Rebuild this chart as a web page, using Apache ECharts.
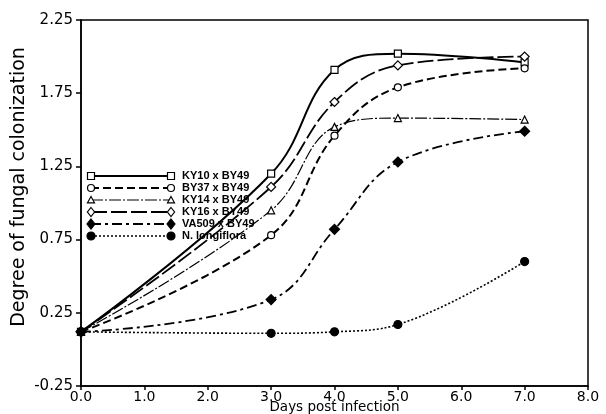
<!DOCTYPE html>
<html>
<head>
<meta charset="utf-8">
<script src="https://cdn.jsdelivr.net/npm/echarts@6/dist/echarts.min.js"></script>
<style>html,body{margin:0;padding:0;background:#fff;}#c{width:606px;height:414px;}</style>
</head>
<body>
<div id="c"></div>
<script>
var days = [0, 3, 4, 5, 7];
var seriesNames = ['KY10 x BY49', 'BY37 x BY49', 'KY14 x BY49', 'KY16 x BY49', 'VA509 x BY49', 'N. longiflora'];
var ky10 = [0.12, 1.20, 1.91, 2.02, 1.96];
var by37 = [0.12, 0.78, 1.46, 1.79, 1.92];
var ky14 = [0.12, 0.95, 1.52, 1.58, 1.57];
var ky16 = [0.12, 1.11, 1.69, 1.94, 2.00];
var va509 = [0.12, 0.34, 0.82, 1.28, 1.49];
var nlong = [0.12, 0.11, 0.12, 0.17, 0.60];
var xTicks = [0, 1, 2, 3, 4, 5, 6, 7, 8];
var yTicks = [-0.25, 0.25, 0.75, 1.25, 1.75, 2.25];

var values = [ky10, by37, ky14, ky16, va509, nlong];
var styles = [
  {symbol: 'rect', size: 7, fill: '#fff', dash: null, w: 2},
  {symbol: 'circle', size: 7, fill: '#fff', dash: [8, 4], w: 2},
  {symbol: 'triangle', size: 7, fill: '#fff', dash: [12, 2, 2, 2], w: 1.2},
  {symbol: 'diamond', size: 9, fill: '#fff', dash: [16, 4], w: 1.8},
  {symbol: 'diamond', size: 10, fill: '#000', dash: [10, 4, 3, 4], w: 1.8},
  {symbol: 'circle', size: 8, fill: '#000', dash: [2, 2], w: 1.6}
];

function pairs(v) { return days.map(function (d, i) { return [d, v[i]]; }); }

var series = values.map(function (v, i) {
  var s = styles[i];
  return {
    name: seriesNames[i], type: 'line', data: pairs(v), smooth: 0.4,
    symbol: s.symbol, symbolSize: s.size, showAllSymbol: true,
    lineStyle: {color: '#000', width: s.w, type: s.dash || 'solid'},
    itemStyle: {color: s.fill, borderColor: '#000', borderWidth: 1.2},
    z: 2 + i
  };
});

// legend drawn as a graphic group (lines with a symbol at each end)
function legendSymbol(s, cx, cy) {
  var st = {fill: s.fill, stroke: '#000', lineWidth: 1.2};
  var h = s.size / 2;
  if (s.symbol === 'rect') return {type: 'rect', shape: {x: cx - h, y: cy - h, width: s.size, height: s.size}, style: st};
  if (s.symbol === 'circle') return {type: 'circle', shape: {cx: cx, cy: cy, r: h}, style: st};
  if (s.symbol === 'triangle') return {type: 'polygon', shape: {points: [[cx, cy - h], [cx + h, cy + h * 0.8], [cx - h, cy + h * 0.8]]}, style: st};
  return {type: 'polygon', shape: {points: [[cx, cy - h], [cx + h * 0.8, cy], [cx, cy + h], [cx - h * 0.8, cy]]}, style: st};
}
var legendEls = [];
var lx0 = 91, lx1 = 171, ly0 = 176, lrow = 12;
seriesNames.forEach(function (n, i) {
  var s = styles[i], y = ly0 + i * lrow;
  legendEls.push({type: 'line', shape: {x1: lx0, y1: y, x2: lx1, y2: y},
    style: {stroke: '#000', lineWidth: s.w, lineDash: s.dash}});
  legendEls.push(legendSymbol(s, lx0, y));
  legendEls.push(legendSymbol(s, lx1, y));
  legendEls.push({type: 'text', x: 182, y: y, style: {text: n, fill: '#000',
    font: 'bold 11px "Liberation Sans", Arial, sans-serif', verticalAlign: 'middle'}});
});

var chart = echarts.init(document.getElementById('c'), null, {renderer: 'canvas'});
chart.setOption({
  animation: false,
  backgroundColor: '#fff',
  grid: {left: 81, right: 18, top: 20, bottom: 28, containLabel: false, outerBoundsMode: 'none',
    show: true, borderColor: '#000', borderWidth: 1.5, backgroundColor: 'transparent'},
  graphic: [{type: 'group', z: 100, children: legendEls}],
  xAxis: {
    type: 'value', min: xTicks[0], max: xTicks[xTicks.length - 1], interval: 1,
    name: 'Days post infection', nameLocation: 'middle', nameGap: 14, nameMoveOverlap: false,
    nameTextStyle: {fontFamily: 'DejaVu Sans', fontSize: 13.5, color: '#000'},
    axisLine: {onZero: false, lineStyle: {color: '#000', width: 1.5}},
    axisTick: {inside: false, length: 4, lineStyle: {color: '#000', width: 1.5}},
    axisLabel: {fontFamily: 'DejaVu Sans', fontSize: 14, color: '#000', margin: 4,
      formatter: function (v) { return v.toFixed(1); }},
    splitLine: {show: false}
  },
  yAxis: {
    type: 'value', min: yTicks[0], max: yTicks[yTicks.length - 1], interval: 0.5,
    name: 'Degree of fungal colonization', nameLocation: 'middle', nameGap: 52, nameMoveOverlap: false,
    nameTextStyle: {fontFamily: 'DejaVu Sans', fontSize: 19, color: '#000', padding: [0, 0, 0, 32]},
    axisLine: {onZero: false, lineStyle: {color: '#000', width: 1.5}},
    axisTick: {inside: false, length: 5, lineStyle: {color: '#000', width: 1.5}},
    axisLabel: {fontFamily: 'DejaVu Sans', fontSize: 15, color: '#000', margin: 8,
      formatter: function (v) { return v.toFixed(2); }},
    splitLine: {show: false}
  },
  series: series
});
</script>
</body>
</html>
